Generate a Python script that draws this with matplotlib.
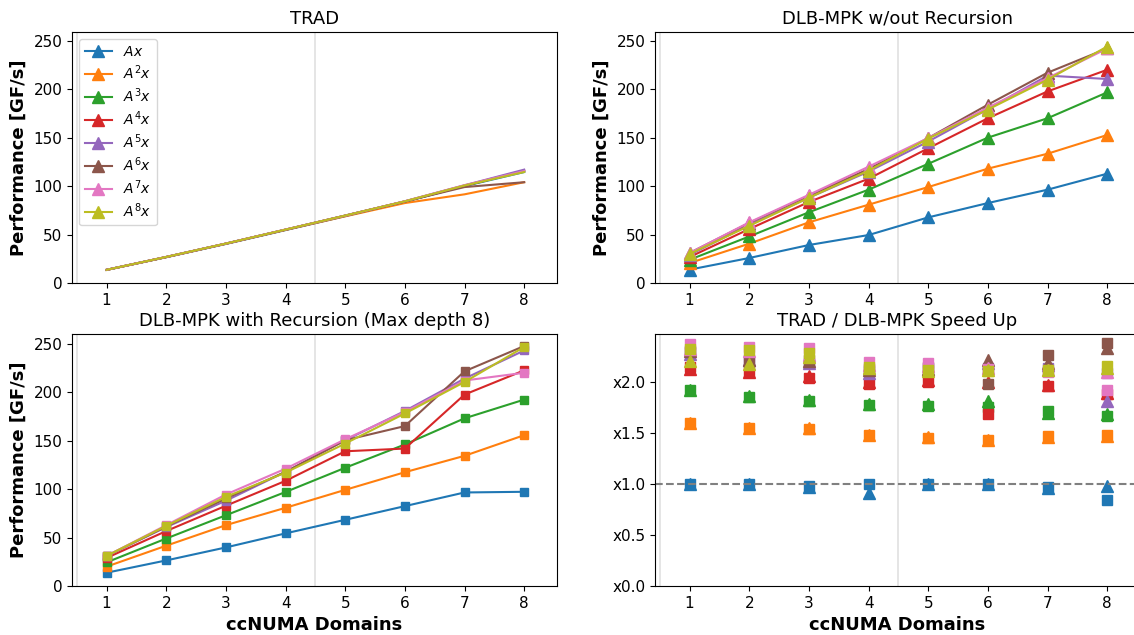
import matplotlib
matplotlib.use("Agg")
import matplotlib.pyplot as plt
from matplotlib.ticker import FormatStrFormatter

domains = [1, 2, 3, 4, 5, 6, 7, 8]
labels = ["$Ax$", "$A^2x$", "$A^3x$", "$A^4x$", "$A^5x$", "$A^6x$", "$A^7x$", "$A^8x$"]

# TRAD performance [GF/s]
trad_ax = [13.6, 26.6, 40.3, 54.6, 69.0, 83.8, 100.0, 114.5]
trad_a2 = [13.5, 26.7, 40.5, 54.8, 68.8, 82.5, 91.5, 104.0]
trad_a3 = [13.5, 26.8, 40.6, 55.0, 69.3, 84.0, 100.2, 115.5]
trad_a4 = [13.6, 26.8, 40.6, 55.0, 69.5, 84.2, 100.5, 116.0]
trad_a5 = [13.6, 26.9, 40.7, 55.1, 69.6, 84.3, 100.8, 117.0]
trad_a6 = [13.6, 26.9, 40.7, 55.1, 69.6, 84.2, 99.0, 104.0]
trad_a7 = [13.6, 26.9, 40.7, 55.2, 69.4, 84.4, 101.0, 115.5]
trad_a8 = [13.6, 26.9, 40.7, 55.1, 69.6, 84.3, 100.6, 114.5]

# DLB-MPK without recursion
norec_ax = [13.8, 25.8, 39.2, 49.5, 67.7, 82.5, 96.3, 112.8]
norec_a2 = [20.6, 40.6, 62.6, 80.8, 99.0, 118.0, 133.4, 152.7]
norec_a3 = [24.0, 48.0, 73.0, 96.3, 123.0, 150.0, 170.0, 196.7]
norec_a4 = [26.8, 55.7, 83.6, 107.6, 139.0, 170.0, 197.7, 220.0]
norec_a5 = [29.0, 60.0, 88.0, 115.0, 146.0, 179.5, 214.0, 210.5]
norec_a6 = [31.0, 62.0, 90.0, 117.6, 149.6, 184.0, 217.0, 242.0]
norec_a7 = [31.0, 62.6, 91.0, 120.0, 149.6, 181.0, 211.5, 242.0]
norec_a8 = [30.0, 59.0, 88.0, 116.0, 149.0, 179.0, 209.8, 244.0]

# DLB-MPK with recursion (max depth 8)
rec_ax = [13.7, 26.4, 39.8, 54.3, 68.3, 82.4, 96.5, 97.2]
rec_a2 = [20.0, 41.6, 62.8, 80.7, 99.2, 117.4, 134.3, 155.6]
rec_a3 = [24.4, 49.0, 73.0, 97.0, 122.0, 146.0, 173.0, 192.3]
rec_a4 = [29.0, 56.7, 82.8, 108.5, 139.0, 141.8, 197.5, 222.5]
rec_a5 = [31.0, 60.8, 88.0, 117.8, 150.4, 180.6, 214.0, 243.0]
rec_a6 = [31.0, 61.5, 90.3, 117.8, 150.4, 165.0, 221.5, 247.6]
rec_a7 = [31.0, 62.8, 94.4, 121.0, 151.4, 179.6, 212.0, 220.0]
rec_a8 = [31.0, 62.0, 92.0, 117.0, 147.0, 178.0, 210.5, 246.6]

# speed up, without recursion (triangles)
su_norec_ax = [1.00, 1.00, 0.97, 0.91, 1.00, 1.00, 0.96, 0.98]
su_norec_a2 = [1.60, 1.55, 1.55, 1.48, 1.46, 1.43, 1.46, 1.47]
su_norec_a3 = [1.92, 1.86, 1.82, 1.78, 1.78, 1.81, 1.70, 1.69]
su_norec_a4 = [2.13, 2.10, 2.06, 2.00, 2.02, 2.00, 1.97, 1.89]
su_norec_a5 = [2.27, 2.22, 2.19, 2.09, 2.12, 2.19, 2.17, 1.81]
su_norec_a6 = [2.30, 2.22, 2.21, 2.12, 2.13, 2.22, 2.19, 2.33]
su_norec_a7 = [2.32, 2.30, 2.26, 2.17, 2.16, 2.14, 2.12, 2.10]
su_norec_a8 = [2.21, 2.18, 2.24, 2.14, 2.11, 2.12, 2.12, 2.14]

# speed up, with recursion (squares)
su_rec_ax = [1.00, 1.00, 0.98, 1.00, 1.00, 1.00, 0.97, 0.84]
su_rec_a2 = [1.60, 1.55, 1.54, 1.48, 1.45, 1.43, 1.47, 1.48]
su_rec_a3 = [1.92, 1.85, 1.81, 1.77, 1.76, 1.75, 1.72, 1.67]
su_rec_a4 = [2.15, 2.10, 2.04, 1.98, 2.00, 1.69, 1.96, 1.88]
su_rec_a5 = [2.29, 2.22, 2.19, 2.11, 2.14, 2.14, 2.14, 2.09]
su_rec_a6 = [2.30, 2.20, 2.22, 2.13, 2.15, 1.98, 2.26, 2.38]
su_rec_a7 = [2.37, 2.34, 2.33, 2.20, 2.19, 2.13, 2.10, 1.92]
su_rec_a8 = [2.32, 2.31, 2.28, 2.15, 2.12, 2.11, 2.12, 2.16]

trad = [trad_ax, trad_a2, trad_a3, trad_a4, trad_a5, trad_a6, trad_a7, trad_a8]
norec = [norec_ax, norec_a2, norec_a3, norec_a4, norec_a5, norec_a6, norec_a7, norec_a8]
rec = [rec_ax, rec_a2, rec_a3, rec_a4, rec_a5, rec_a6, rec_a7, rec_a8]
su_norec = [su_norec_ax, su_norec_a2, su_norec_a3, su_norec_a4,
            su_norec_a5, su_norec_a6, su_norec_a7, su_norec_a8]
su_rec = [su_rec_ax, su_rec_a2, su_rec_a3, su_rec_a4,
          su_rec_a5, su_rec_a6, su_rec_a7, su_rec_a8]

# tab10 without the grey one
tab = plt.rcParams["axes.prop_cycle"].by_key()["color"]
colors = [tab[0], tab[1], tab[2], tab[3], tab[4], tab[5], tab[6], tab[8]]

W, H = 1134, 635
fig = plt.figure(figsize=(W / 100, H / 100), dpi=100)


def box(x0, y0, x1, y1):
    return [x0 / W, 1 - y1 / H, (x1 - x0) / W, (y1 - y0) / H]


ax_trad = fig.add_axes(box(72, 32, 557, 283))
ax_norec = fig.add_axes(box(655, 32, 1140, 283))
ax_rec = fig.add_axes(box(72, 334, 557, 586))
ax_su = fig.add_axes(box(655, 334, 1140, 586))

handles = []
for i in range(8):
    ax_trad.plot(domains, trad[i], color=colors[i], label=labels[i])
    h, = ax_norec.plot(domains, norec[i], color=colors[i], marker="^",
                       markersize=8, label=labels[i])
    handles.append(h)
    ax_rec.plot(domains, rec[i], color=colors[i], marker="s", markersize=6)

for i in range(8):
    ax_su.plot(domains, su_norec[i], color=colors[i], marker="^",
               markersize=8, linestyle="none")
    ax_su.plot(domains, su_rec[i], color=colors[i], marker="s",
               markersize=7, linestyle="none")

ax_trad.legend(handles=handles, loc="upper left", fontsize=10,
               labelspacing=0.32)

for ax in [ax_trad, ax_norec, ax_rec, ax_su]:
    ax.axvline(0.5, color="lightgray", alpha=0.7, linewidth=1.2, zorder=0)
    ax.axvline(4.5, color="lightgray", alpha=0.7, linewidth=1.2, zorder=0)
    ax.set_xlim(0.42, 8.55)
    ax.set_xticks(domains)
    ax.tick_params(labelsize=11)

ax_trad.set_ylim(0, 259)
ax_norec.set_ylim(0, 259)
ax_rec.set_ylim(0, 260)
ax_su.set_ylim(0, 2.47)
ax_su.axhline(1.0, color="gray", linestyle="--", linewidth=1.5)
ax_su.set_yticks([0, 0.5, 1.0, 1.5, 2.0])
ax_su.yaxis.set_major_formatter(FormatStrFormatter("x%.1f"))

ax_trad.set_title("TRAD", fontsize=13)
ax_norec.set_title("DLB-MPK w/out Recursion", fontsize=13)
ax_rec.set_title("DLB-MPK with Recursion (Max depth 8)", fontsize=13)
ax_su.set_title("TRAD / DLB-MPK Speed Up", fontsize=13)

for ax in [ax_trad, ax_norec, ax_rec]:
    ax.set_ylabel("Performance [GF/s]", fontsize=13, fontweight="bold")
for ax in [ax_rec, ax_su]:
    ax.set_xlabel("ccNUMA Domains", fontsize=13, fontweight="bold")

fig.savefig("out.png", dpi=100)
